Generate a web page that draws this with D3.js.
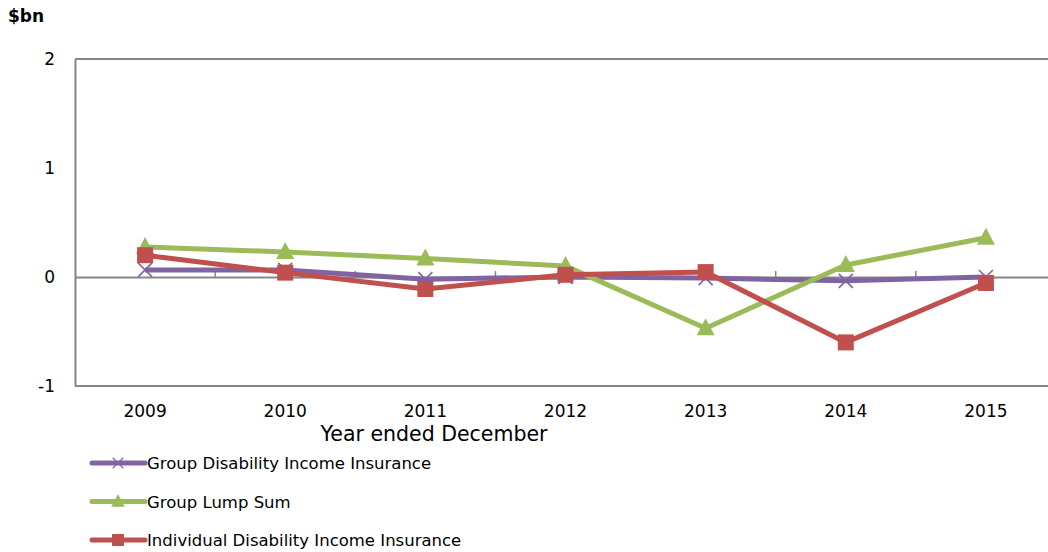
<!DOCTYPE html>
<html>
<head>
<meta charset="utf-8">
<script src="https://cdn.jsdelivr.net/npm/d3@7"></script>
<style>
  body { margin: 0; background: #fff; }
  text { font-family: "DejaVu Sans", sans-serif; fill: #000; }
</style>
</head>
<body>
<svg id="chart"></svg>
<script>
const WIDTH = 1048;
const HEIGHT = 552;

const years = ["2009", "2010", "2011", "2012", "2013", "2014", "2015"];
const yTicks = [-1, 0, 1, 2];

const groupDII = [0.065, 0.065, -0.02, 0.0, -0.01, -0.035, 0.0];
const groupLumpSum = [0.275, 0.23, 0.17, 0.10, -0.47, 0.11, 0.36];
const individualDII = [0.20, 0.04, -0.11, 0.02, 0.045, -0.60, -0.055];

const seriesNames = [
    "Group Disability Income Insurance",
    "Group Lump Sum",
    "Individual Disability Income Insurance"
];
const seriesColors = ["#8064A2", "#9BBB59", "#C0504D"];
const seriesMarkers = ["cross", "triangle", "square"];

const series = [groupDII, groupLumpSum, individualDII].map((values, i) => ({
    name: seriesNames[i],
    color: seriesColors[i],
    marker: seriesMarkers[i],
    values: values
}));

const margin = { left: 75, top: 59, right: -8, bottom: 166 };

const svg = d3.select("#chart")
    .attr("width", WIDTH)
    .attr("height", HEIGHT);

const x = d3.scaleBand()
    .domain(years)
    .range([margin.left, WIDTH - margin.right]);

const y = d3.scaleLinear()
    .domain([-1, 2])
    .range([HEIGHT - margin.bottom, margin.top]);

const axisColor = "#868686";

// plot frame
svg.append("line")
    .attr("x1", margin.left).attr("x2", WIDTH - margin.right)
    .attr("y1", y(2)).attr("y2", y(2))
    .attr("stroke", axisColor).attr("stroke-width", 2);
svg.append("line")
    .attr("x1", margin.left).attr("x2", WIDTH - margin.right)
    .attr("y1", y(-1)).attr("y2", y(-1))
    .attr("stroke", axisColor).attr("stroke-width", 2);

// y axis
const yAxis = svg.append("g")
    .attr("transform", `translate(${margin.left},0)`)
    .call(d3.axisLeft(y).tickValues(yTicks).tickSize(0).tickPadding(20).tickFormat(d => String(d)));
yAxis.select(".domain").attr("stroke", axisColor).attr("stroke-width", 2);
yAxis.selectAll("text").style("font-size", "17px").style("font-family", "DejaVu Sans, sans-serif");

// zero line with category ticks
const xAxis = svg.append("g")
    .attr("transform", `translate(0,${y(0)})`)
    .call(d3.axisTop(x).tickValues(years.slice(1)).tickSize(6).tickSizeOuter(0).tickFormat(""));
xAxis.select(".domain").attr("stroke", axisColor).attr("stroke-width", 2);
xAxis.selectAll(".tick line")
    .attr("stroke", axisColor)
    .attr("stroke-width", 1.5)
    .attr("transform", `translate(${-x.bandwidth() / 2},0)`);

// category labels at bottom
svg.append("g")
    .selectAll("text")
    .data(years)
    .join("text")
    .attr("x", d => x(d) + x.bandwidth() / 2)
    .attr("y", y(-1) + 31)
    .attr("text-anchor", "middle")
    .style("font-size", "17px")
    .text(d => d);

svg.append("text")
    .attr("x", 434)
    .attr("y", 441)
    .attr("text-anchor", "middle")
    .style("font-size", "20.5px")
    .text("Year ended December");

svg.append("text")
    .attr("x", 8)
    .attr("y", 22)
    .style("font-size", "17px")
    .style("font-weight", "bold")
    .text("$bn");

function drawMarker(g, type, color) {
    if (type === "square") {
        g.append("rect")
            .attr("x", -8).attr("y", -8)
            .attr("width", 16).attr("height", 16)
            .attr("fill", color);
    } else if (type === "triangle") {
        g.append("path")
            .attr("d", "M0,-10L9,7L-9,7Z")
            .attr("fill", color);
    } else {
        g.append("path")
            .attr("d", "M-7,-7L7,7M-7,7L7,-7")
            .attr("stroke", color)
            .attr("stroke-width", 1.6)
            .attr("fill", "none");
    }
}

const line = d3.line()
    .x((d, i) => x(years[i]) + x.bandwidth() / 2)
    .y(d => y(d));

series.forEach(s => {
    const g = svg.append("g");
    g.append("path")
        .datum(s.values)
        .attr("d", line)
        .attr("fill", "none")
        .attr("stroke", s.color)
        .attr("stroke-width", 5)
        .attr("stroke-linejoin", "round");
    s.values.forEach((v, i) => {
        const m = g.append("g")
            .attr("transform", `translate(${x(years[i]) + x.bandwidth() / 2},${y(v)})`);
        drawMarker(m, s.marker, s.color);
    });
});

// legend
const legend = svg.append("g");
series.forEach((s, i) => {
    const ly = 463 + i * 38.5;
    const g = legend.append("g");
    g.append("line")
        .attr("x1", 92).attr("x2", 145)
        .attr("y1", ly).attr("y2", ly)
        .attr("stroke", s.color)
        .attr("stroke-width", 5)
        .attr("stroke-linecap", "round");
    const m = g.append("g").attr("transform", `translate(118,${ly}) scale(0.75)`);
    drawMarker(m, s.marker, s.color);
    g.append("text")
        .attr("x", 147)
        .attr("y", ly + 6)
        .style("font-size", "16.5px")
        .text(s.name);
});
</script>
</body>
</html>
